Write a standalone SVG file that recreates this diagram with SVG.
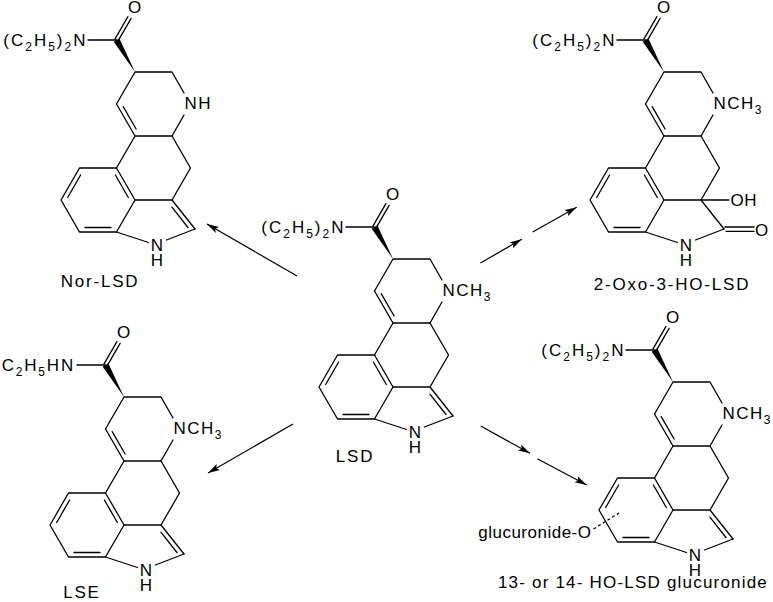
<svg xmlns="http://www.w3.org/2000/svg" width="773" height="602" viewBox="0 0 773 602">
<style>
.b{stroke:#000;stroke-width:1.3;fill:none;stroke-linecap:round;stroke-linejoin:round}
.f{fill:#000;stroke:none}
.t{font-family:"Liberation Sans",Arial,sans-serif;font-size:17px;fill:#000}
.s{font-size:12px}
.c{letter-spacing:1.5px}
.nm{letter-spacing:1.8px}
.arr{stroke:#000;stroke-width:1.2;fill:none}
.dash{stroke:#000;stroke-width:1.2;fill:none;stroke-dasharray:3 2.5}
</style>
<defs>
<marker id="ah" viewBox="0 0 12 8" refX="12" refY="4" markerWidth="12" markerHeight="8" orient="auto" markerUnits="userSpaceOnUse">
<path d="M0,0.6 L12,4 L0,7.4 L2.5,4 z" fill="#000"/>
</marker>
<g id="core">
<g class="b">
<polyline points="374.5,291 393,259 430,259 442,280"/>
<polyline points="442,302 430,323 393,323 374.5,291"/>
<line x1="381.2" y1="293.6" x2="394.1" y2="316"/>
<line x1="393" y1="323" x2="374.5" y2="355"/>
<polyline points="430,323 448.5,355 430,387 393,387"/>
<polygon points="374.5,355 337.5,355 319,387 337.5,419 374.5,419 393,387"/>
<line x1="338.6" y1="362" x2="325.7" y2="384.5"/>
<line x1="343" y1="414.5" x2="369" y2="414.5"/>
<line x1="386.3" y1="384.5" x2="373.4" y2="362"/>
<line x1="374.5" y1="419" x2="406.5" y2="429.5"/>
<line x1="424.5" y1="427" x2="453" y2="416"/>
<line x1="346" y1="227" x2="374.5" y2="227"/>
<line x1="376.1" y1="227.9" x2="389.1" y2="205.4"/>
<line x1="372.9" y1="226.1" x2="385.9" y2="203.6"/>
</g>
<polygon class="f" points="393,259 377.3,225.3 371.7,228.7"/>
<text class="t" x="392.5" y="200" text-anchor="middle">O</text>
<text class="t" x="415" y="438" text-anchor="middle">N</text>
<text class="t" x="415" y="453" text-anchor="middle">H</text>
</g>
<g id="pyr" class="b">
<line x1="430" y1="387" x2="453" y2="416"/>
<line x1="429.9" y1="394.2" x2="446" y2="414.5"/>
</g>
<text id="nme" class="t c" x="442.5" y="296">NCH<tspan class="s" dy="5">3</tspan></text>
<text id="dea" class="t" x="345.5" y="233" text-anchor="end" letter-spacing="2">(C<tspan class="s" dy="5">2</tspan><tspan dy="-5">H</tspan><tspan class="s" dy="5">5</tspan><tspan dy="-5">)</tspan><tspan class="s" dy="5">2</tspan><tspan dy="-5">N</tspan></text>
</defs>

<g id="lsd">
<use href="#core"/>
<use href="#pyr"/>
<use href="#nme"/>
<use href="#dea"/>
<text class="t nm" x="355" y="462" text-anchor="middle">LSD</text>
</g>

<g id="nor-lsd">
<g transform="translate(-258,-187)">
<use href="#core"/>
<use href="#pyr"/>
<text class="t" x="442.5" y="296" letter-spacing="1.5">NH</text>
<use href="#dea"/>
</g>
<text class="t nm" x="100" y="287" text-anchor="middle">Nor-LSD</text>
</g>

<g id="oxo-ho-lsd">
<g transform="translate(271,-187)">
<use href="#core"/>
<use href="#nme"/>
<use href="#dea"/>
<g class="b">
<line x1="430" y1="387" x2="453" y2="416"/>
<line x1="430" y1="387" x2="458" y2="387"/>
<line x1="454" y1="414" x2="483" y2="414"/>
<line x1="455" y1="418.3" x2="483" y2="418.3"/>
</g>
<text class="t" x="459.5" y="393" letter-spacing="0.5">OH</text>
<text class="t" x="490.5" y="422.5" text-anchor="middle">O</text>
</g>
<text class="t nm" x="672" y="290" text-anchor="middle">2-Oxo-3-HO-LSD</text>
</g>

<g id="lse">
<g transform="translate(-269,138)">
<use href="#core"/>
<use href="#pyr"/>
<use href="#nme"/>
<text class="t" x="344" y="233" text-anchor="end" letter-spacing="1.8">C<tspan class="s" dy="5">2</tspan><tspan dy="-5">H</tspan><tspan class="s" dy="5">5</tspan><tspan dy="-5">HN</tspan></text>
</g>
<text class="t nm" x="82" y="598" text-anchor="middle">LSE</text>
</g>

<g id="ho-lsd-glucuronide">
<g transform="translate(280,123)">
<use href="#core"/>
<use href="#pyr"/>
<use href="#nme"/>
<use href="#dea"/>
<line class="dash" x1="313.5" y1="406" x2="339" y2="390"/>
<text class="t" x="311.5" y="414.5" text-anchor="end" letter-spacing="0.5">glucuronide-O</text>
</g>
<text class="t" x="768" y="588" text-anchor="end" letter-spacing="1.2">13- or 14- HO-LSD glucuronide</text>
</g>

<g id="connectors">
<line class="arr" x1="297" y1="276" x2="207" y2="224" marker-end="url(#ah)"/>
<line class="arr" x1="293" y1="424" x2="208" y2="473" marker-end="url(#ah)"/>
<line class="arr" x1="480.5" y1="263" x2="521.7" y2="239.3" marker-end="url(#ah)"/>
<line class="arr" x1="532.7" y1="232" x2="576.7" y2="207.3" marker-end="url(#ah)"/>
<line class="arr" x1="480.7" y1="426" x2="530" y2="453.3" marker-end="url(#ah)"/>
<line class="arr" x1="537.3" y1="458.7" x2="586.7" y2="485" marker-end="url(#ah)"/>
</g>
</svg>
